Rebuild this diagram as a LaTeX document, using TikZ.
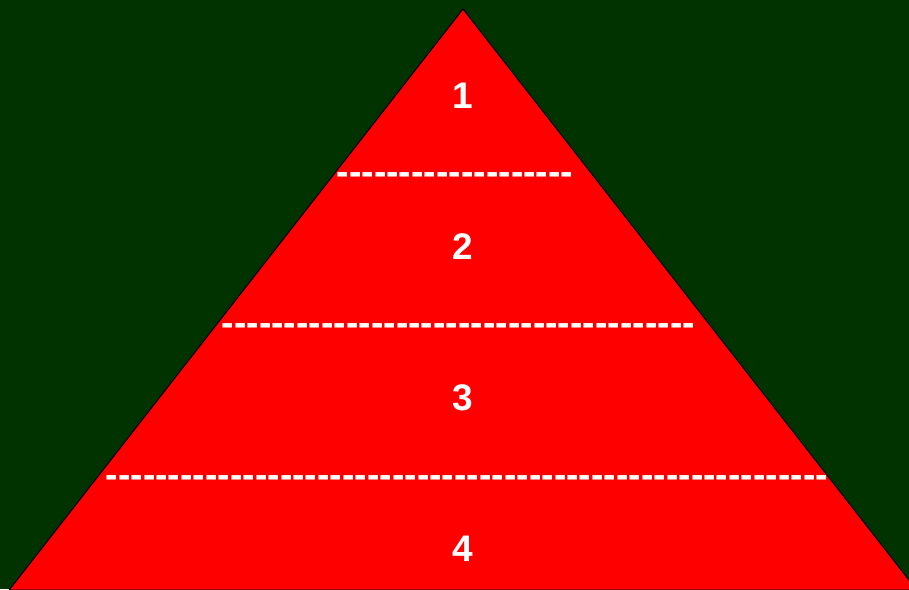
\documentclass[tikz,border=0pt]{standalone}
\usepackage{fontspec}
\setmainfont{Liberation Sans}
\definecolor{bggreen}{HTML}{003300}
\begin{document}
\begin{tikzpicture}[x=1pt,y=-1pt,
  lbl/.style={inner sep=0pt,text=white,font=\fontsize{37}{44}\selectfont\bfseries},
  dashrow/.style={inner sep=0pt,text=white,font=\fontsize{37.4}{44}\selectfont\bfseries,anchor=base west}]
\fill[bggreen] (0,0) rectangle (909,589);
\useasboundingbox (0,0) rectangle (909,589);
\coordinate (apex) at (463,9);
\coordinate (bl) at (9.2,590);
\coordinate (br) at (916.8,590);
\begin{scope}
\clip (0,0) rectangle (909,589);
\filldraw[fill=red,draw=black,line width=1pt] (bl) -- (apex) -- (br) -- cycle;
\end{scope}
\node[lbl,anchor=base] (n1) at (463,108.5) {1};
\node[lbl,anchor=base] (n2) at (463,259.5) {2};
\node[lbl,anchor=base] (n3) at (463,410.5) {3};
\node[lbl,anchor=base] (n4) at (463,561.5) {4};
\node[dashrow] (d1) at (336.5,184.4) {-{}-{}-{}-{}-{}-{}-{}-{}-{}-{}-{}-{}-{}-{}-{}-{}-{}-{}-};
\node[dashrow] (d2) at (221.5,335.4) {-{}-{}-{}-{}-{}-{}-{}-{}-{}-{}-{}-{}-{}-{}-{}-{}-{}-{}-{}-{}-{}-{}-{}-{}-{}-{}-{}-{}-{}-{}-{}-{}-{}-{}-{}-{}-{}-};
\node[dashrow] (d3) at (105.5,487.4) {-{}-{}-{}-{}-{}-{}-{}-{}-{}-{}-{}-{}-{}-{}-{}-{}-{}-{}-{}-{}-{}-{}-{}-{}-{}-{}-{}-{}-{}-{}-{}-{}-{}-{}-{}-{}-{}-{}-{}-{}-{}-{}-{}-{}-{}-{}-{}-{}-{}-{}-{}-{}-{}-{}-{}-{}-{}-};
\end{tikzpicture}
\end{document}
